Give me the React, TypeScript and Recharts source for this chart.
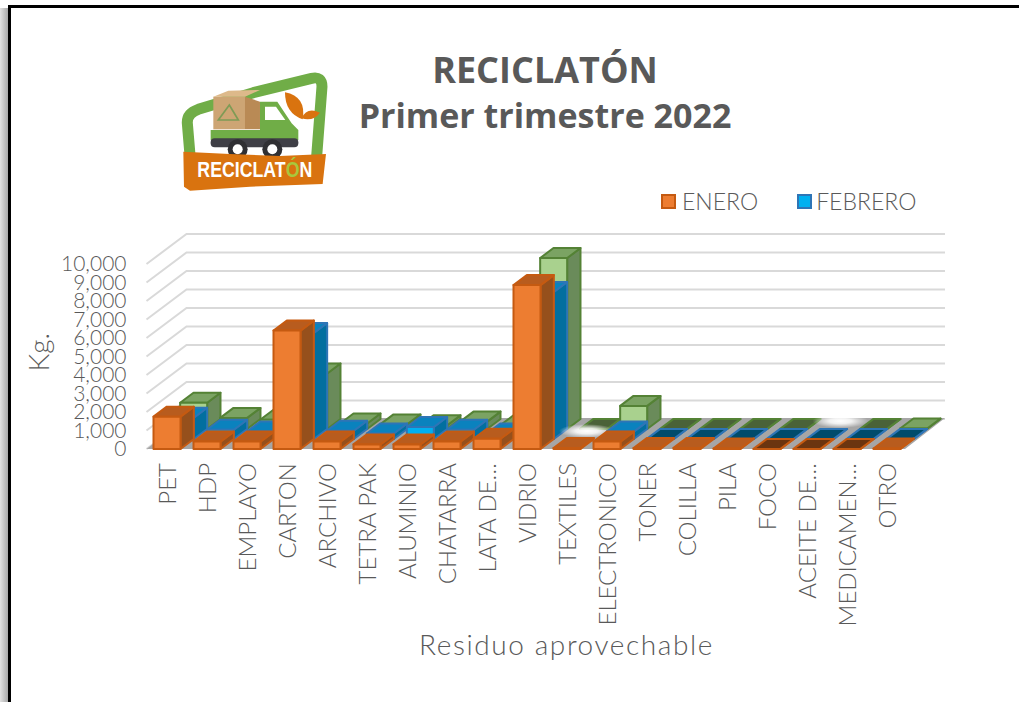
import React from 'react';
import { BarChart, Bar, XAxis, YAxis, CartesianGrid, Legend } from 'recharts';

const categories = ['PET','HDP','EMPLAYO','CARTON','ARCHIVO','TETRA PAK','ALUMINIO','CHATARRA','LATA DE…','VIDRIO','TEXTILES','ELECTRONICO','TONER','COLILLA','PILA','FOCO','ACEITE DE…','MEDICAMEN…','OTRO'];
const enero = [1750,400,400,6400,400,250,250,400,550,8860,50,400,50,60,30,5,5,5,30];
const febrero = [1150,500,400,5730,450,300,650,500,300,7950,0,400,5,5,5,5,5,5,5];
const marzo = [1420,600,500,3000,300,250,200,400,200,9240,5,1250,5,5,5,5,0,5,30];
const yTicks = [0,1000,2000,3000,4000,5000,6000,7000,8000,9000,10000];

const data = categories.map((c, i) => ({ name: c, enero: enero[i], febrero: febrero[i], marzo: marzo[i] }));

const FONT = 'Lato, "Open Sans", sans-serif';
const GREY = '#595959';
const DX = 13.33;
const DY = 10;

const palettes = [
  { front: '#ED7D31', stroke: '#C55A11', top: '#B85C1E', side: '#96501C', dark: '#6B3510' },
  { front: '#00B0F0', stroke: '#2E75B6', top: '#0A82BE', side: '#026F9F', dark: '#004B6B' },
  { front: '#A9D18E', stroke: '#548235', top: '#7BA363', side: '#6A8B5A', dark: '#4A6238' },
];

function box(series: number) {
  return function BoxShape(props: any) {
    const { x, y, width, height, value } = props;
    const p = palettes[series];
    const ox = series * DX;
    const oy = -series * DY;
    const l = x + ox;
    const r = l + width;
    const t = y + oy;
    const b = t + height;
    const v = Array.isArray(value) ? value[1] - value[0] : value;
    if (!v) {
      return <ellipse cx={l + width / 2 + DX / 2} cy={b - 8} rx={28} ry={7} fill="url(#floorGlow)" />;
    }
    const topFill = v < 10 ? p.dark : p.top;
    return (
      <g stroke={p.stroke} strokeWidth={2} strokeLinejoin="round">
        <path d={`M${r},${b} L${r + DX},${b - DY} L${r + DX},${t - DY} L${r},${t} Z`} fill={p.side} />
        <path d={`M${l},${t} L${l + DX},${t - DY} L${r + DX},${t - DY} L${r},${t} Z`} fill={topFill} />
        <rect x={l} y={t} width={width} height={height} fill={p.front} />
      </g>
    );
  };
}

function gridLine(props: any) {
  const { x1, y1, x2 } = props;
  return (
    <path
      key={`g-${y1}`}
      d={`M${x1},${y1} L${x1 + 40},${y1 - 30} L${x2 + 38.5},${y1 - 30}`}
      fill="none"
      stroke="#D9D9D9"
      strokeWidth={2}
    />
  );
}

function XTick(props: any) {
  const { x, y, payload } = props;
  return (
    <text
      x={x}
      y={y}
      transform={`rotate(-90 ${x} ${y})`}
      textAnchor="end"
      dominantBaseline="central"
      fontFamily={FONT}
      fontWeight={300}
      fontSize={24}
      fill={GREY}
    >
      {payload.value}
    </text>
  );
}

function LegendContent(props: any) {
  const items = [...(props.payload || [])].filter((e: any) => e.type !== 'none');
  return (
    <div style={{ display: 'flex', fontFamily: FONT, fontWeight: 300, fontSize: 23, color: GREY, lineHeight: '28px' }}>
      {items.map((e: any, i: number) => (
        <div key={e.value} style={{ display: 'flex', alignItems: 'center', marginRight: 39 }}>
          <span
            style={{
              display: 'inline-block',
              width: 11,
              height: 11,
              background: e.color,
              border: `2px solid ${i === 0 ? palettes[0].stroke : palettes[1].stroke}`,
              marginRight: i === 0 ? 6 : 4,
            }}
          />
          {e.value}
        </div>
      ))}
    </div>
  );
}

function Logo() {
  return (
    <g transform="translate(170,60) scale(0.3333)">
      <path
        d="M60,285 L52,190 Q50,160 85,148 L250,98 L425,55 Q456,48 456,80 L440,290"
        fill="none"
        stroke="#70AD47"
        strokeWidth={33}
        strokeLinejoin="round"
      />
      <path d="M95,170 L270,125 L345,130 L420,90 L410,280 L90,280 Z" fill="#FFFFFF" />
      <path d="M270,125 L322,125 L365,190 L385,210 L385,240 L122,240 L122,210 L270,210 Z" fill="#70AD47" />
      <path d="M285,140 L318,140 L346,180 L285,180 Z" fill="#FFFFFF" />
      <rect x={130} y={110} width={95} height={98} fill="#CDA574" />
      <path d="M225,110 L270,125 L270,208 L225,208 Z" fill="#B98A55" />
      <path d="M130,110 L175,92 L270,90 L225,110 Z" fill="#DDB98A" />
      <path d="M178,135 L205,180 L145,180 Z" fill="none" stroke="#7E9B55" strokeWidth={5} />
      <rect x={122} y={235} width={263} height={27} rx={12} fill="#3F3F46" />
      <circle cx={203} cy={268} r={30} fill="#2F2F33" />
      <circle cx={203} cy={268} r={15} fill="#FFFFFF" />
      <circle cx={307} cy={268} r={30} fill="#2F2F33" />
      <circle cx={307} cy={268} r={15} fill="#FFFFFF" />
      <path d="M345,97 Q410,110 398,178 Q345,160 345,97 Z" fill="#D9730F" />
      <path d="M395,175 Q410,140 450,158 Q430,185 395,175 Z" fill="#D9730F" />
      <path d="M40,275 L180,282 L330,288 L468,282 L458,372 L240,380 L60,392 L42,380 Z" fill="#D9730F" />
      <text x={82} y={352} fontFamily='"Liberation Sans Narrow", "Liberation Sans", sans-serif' fontWeight={700} fontSize={66} textLength={345} lengthAdjust="spacingAndGlyphs" fill="#FFFFFF">
        RECICLAT<tspan fill="#A9C73C">Ó</tspan>N
      </text>
    </g>
  );
}

export default function App() {
  return (
    <div style={{ position: 'absolute', left: 0, top: 0, width: 1019, height: 702, overflow: 'hidden', background: '#fff' }}>
      <div style={{ position: 'absolute', left: 0, top: 8, width: 8, height: 700, background: 'linear-gradient(to right, #E2E2E2, #A8A8A8)' }} />
      <div style={{ position: 'absolute', left: 8, top: 5, width: 1100, height: 800, border: '3px solid #000', boxSizing: 'border-box' }} />
      <div style={{ position: 'absolute', left: 0, top: 0 }}>
        <BarChart
          width={1019}
          height={702}
          data={data}
          barSize={27}
          barGap={-27}
          margin={{ top: 264, left: 86.5, right: 112.5, bottom: 143 }}
        >
          <defs>
            <radialGradient id="floorGlow">
              <stop offset="0%" stopColor="#FFFFFF" />
              <stop offset="40%" stopColor="#FFFFFF" stopOpacity={0.85} />
              <stop offset="100%" stopColor="#FFFFFF" stopOpacity={0} />
            </radialGradient>
          </defs>
          <text x={545} y={83} textAnchor="middle" fontFamily='"Open Sans", sans-serif' fontWeight={700} fontSize={36} fill={GREY}>
            RECICLATÓN
          </text>
          <text x={545} y={128} textAnchor="middle" fontFamily='"Open Sans", sans-serif' fontWeight={700} fontSize={34} fill={GREY}>
            Primer trimestre 2022
          </text>
          <Logo />
          <CartesianGrid vertical={false} horizontal={gridLine} />
          <polygon points="146.5,449 187,418 945,418 905,449" fill="#A6A6A6" />
          <XAxis
            dataKey="name"
            interval={0}
            height={110}
            axisLine={false}
            tickLine={false}
            tickSize={0}
            tickMargin={14}
            tick={XTick}
            label={{ value: 'Residuo aprovechable', position: 'insideBottom', dx: 40, dy: 101, fontFamily: FONT, fontWeight: 300, fontSize: 28, letterSpacing: 1.6, fill: GREY }}
          />
          <YAxis
            width={60}
            domain={[0, 10000]}
            ticks={yTicks}
            interval={0}
            axisLine={false}
            tickLine={false}
            tickSize={0}
            tickMargin={20}
            tickFormatter={(v: number) => v.toLocaleString('en-US')}
            tick={{ fontFamily: FONT, fontWeight: 300, fontSize: 21, fill: GREY }}
            label={{ value: 'Kg.', angle: -90, position: 'insideLeft', dx: -52, dy: 15, fontFamily: FONT, fontWeight: 300, fontSize: 28, fill: GREY }}
          />
          <Bar dataKey="marzo" name="MARZO" fill={palettes[2].front} legendType="none" shape={box(2)} isAnimationActive={false} />
          <Bar dataKey="febrero" name="FEBRERO" fill={palettes[1].front} shape={box(1)} isAnimationActive={false} />
          <Bar dataKey="enero" name="ENERO" fill={palettes[0].front} shape={box(0)} isAnimationActive={false} />
          <Legend
            layout="horizontal"
            verticalAlign="middle"
            align="center"
            content={LegendContent}
            wrapperStyle={{ position: 'absolute', left: 661, top: 187, width: 340, height: 30 }}
          />
        </BarChart>
      </div>
    </div>
  );
}
